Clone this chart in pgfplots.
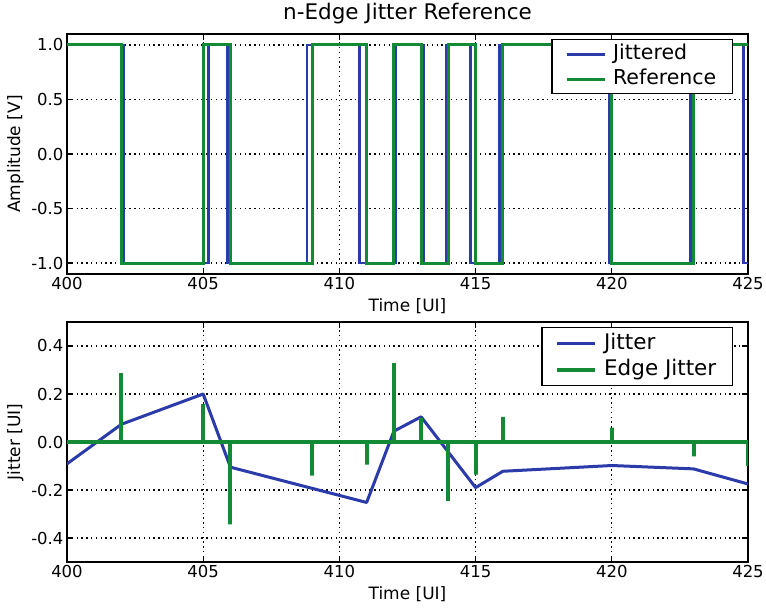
\documentclass[border=0pt]{standalone}
\usepackage{pgfplots}
\pgfplotsset{compat=1.18}
\usepackage{fontspec}
\setmainfont{DejaVu Sans}

\definecolor{jitblue}{HTML}{2B3BAA}
\definecolor{refgreen}{HTML}{138A35}

% shared look of both panels
\pgfplotsset{
  panel/.style={
    scale only axis, width=681pt, height=240pt,
    xmin=400, xmax=425, xtick={400,405,...,425},
    axis line style={black, line width=1.8pt},
    tick style={black, line width=1.2pt},
    major tick length=6pt, tick align=inside,
    grid=major,
    grid style={black, line width=1.3pt, dash pattern=on 1.3pt off 3.5pt},
    /pgf/number format/assume math mode=true,
    tick label style={font=\fontsize{16.5}{18}\selectfont},
    yticklabel style={/pgf/number format/.cd, fixed, fixed zerofill, precision=1},
    label style={font=\fontsize{17}{20}\selectfont},
    xlabel={Time [UI]},
    x label style={at={(axis description cs:0.5,-0.158)}, anchor=base},
    y label style={at={(axis description cs:-0.069,0.5)}, anchor=base},
    legend cell align=left,
    legend image code/.code={\draw[##1] (0pt,0pt) -- (38pt,0pt);},
    legend style={at={(axis description cs:0.978,0.979)}, anchor=north east,
      draw=black, line width=1.4pt, fill=white,
      font=\fontsize{20.5}{24}\selectfont,
      inner xsep=13pt, inner ysep=2pt, column sep=4pt,
      nodes={inner sep=3pt, text height=15pt, text depth=4pt}},
    no marks,
  }
}

\begin{document}
\begin{tikzpicture}
\useasboundingbox (0,0) rectangle (766pt,608pt);

% upper panel: jittered NRZ stream against its reference
\begin{axis}[panel,
  at={(67pt,334pt)}, anchor=south west,
  ymin=-1.1, ymax=1.1, ytick={-1,-0.5,0,0.5,1},
  ylabel={Amplitude [V]},
  title={n-Edge Jitter Reference},
  title style={font=\fontsize{21.5}{24}\selectfont, at={(axis description cs:0.5,1)}, anchor=base, yshift=8pt},
]
\addplot[const plot, color=jitblue, line width=2.8pt] coordinates {
  (400,1) (402.07,-1) (405.18,1) (405.90,-1) (408.81,1) (410.75,-1)
  (412.05,1) (413.10,-1) (413.94,1) (414.81,-1) (415.88,1) (419.90,-1)
  (422.89,1) (424.83,-1) (425,-1)
};
\addlegendentry{Jittered}
\addplot[const plot, color=refgreen, line width=3pt] coordinates {
  (400,1) (402,-1) (405,1) (406,-1) (409,1) (411,-1) (412,1) (413,-1)
  (414,1) (415,-1) (416,1) (420,-1) (423,1) (425,1)
};
\addlegendentry{Reference}
\end{axis}

% lower panel: jitter trajectory and per-edge jitter
\begin{axis}[panel,
  at={(67pt,46pt)}, anchor=south west,
  ymin=-0.5, ymax=0.5, ytick={-0.4,-0.2,0,0.2,0.4},
  ylabel={Jitter [UI]},
  legend style={font=\fontsize{21.5}{24}\selectfont,
    nodes={inner sep=3pt, text height=16pt, text depth=4pt}, inner ysep=3pt},
]
\addplot[color=jitblue, line width=3pt, line join=round] coordinates {
  (400,-0.091) (402,0.074) (405,0.200) (406,-0.105) (411,-0.252)
  (412,0.045) (413,0.105) (415,-0.190) (416,-0.122) (420,-0.098)
  (423,-0.112) (425,-0.175)
};
\addlegendentry{Jitter}
\addplot[color=refgreen, line width=4pt] coordinates {
  (400,0) (402,0) (402,0.287) (402,0) (405,0) (405,0.158) (405,0)
  (406,0) (406,-0.343) (406,0) (409,0) (409,-0.140) (409,0)
  (411,0) (411,-0.094) (411,0) (412,0) (412,0.329) (412,0)
  (413,0) (413,0.100) (413,0) (414,0) (414,-0.245) (414,0)
  (415,0) (415,-0.136) (415,0) (416,0) (416,0.105) (416,0)
  (420,0) (420,0.060) (420,0) (423,0) (423,-0.060) (423,0)
  (425,0) (425,-0.098)
};
\addlegendentry{Edge Jitter}
\end{axis}
\end{tikzpicture}
\end{document}
